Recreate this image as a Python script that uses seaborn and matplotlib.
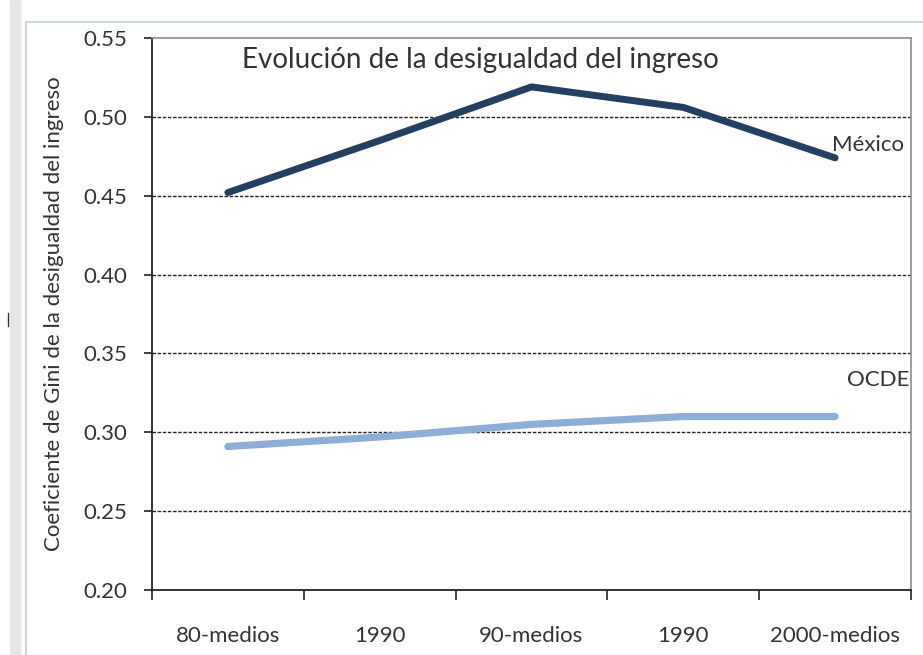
import pandas as pd
import matplotlib
matplotlib.use("Agg")
import matplotlib.pyplot as plt
import seaborn as sns
from matplotlib.lines import Line2D
from matplotlib.ticker import FixedLocator, NullFormatter

# --- datos ---
periodos = ["80-medios", "1990", "90-medios", "1990", "2000-medios"]
mexico = [0.452, 0.485, 0.519, 0.506, 0.474]
ocde = [0.291, 0.297, 0.305, 0.310, 0.310]
y_ticks = [0.20, 0.25, 0.30, 0.35, 0.40, 0.45, 0.50, 0.55]

titulo = "Evolución de la desigualdad del ingreso"
eje_y = "Coeficiente de Gini de la desigualdad del ingreso"

sns.set_style("white")
plt.rcParams['font.family'] = ['Lato', 'DejaVu Sans']

df = pd.DataFrame({
    "pos": list(range(len(periodos))) * 2,
    "gini": mexico + ocde,
    "serie": ["México"] * len(periodos) + ["OCDE"] * len(periodos),
})

fig = plt.figure(figsize=(9.23, 6.55), dpi=100)
ax = fig.add_axes([152 / 923, 1 - 590 / 655, (911 - 152) / 923, (590 - 38) / 655])

# marco exterior del gráfico
fig.add_artist(plt.Rectangle((10 / 923, 0), 10 / 923, 1, color="#e6e6e6",
                             transform=fig.transFigure, zorder=0))
fig.add_artist(Line2D([26 / 923, 26 / 923], [0, 1 - 22 / 655], color="#c9d3e3",
                      lw=1.5, transform=fig.transFigure))
fig.add_artist(Line2D([26 / 923, 1], [1 - 22 / 655, 1 - 22 / 655], color="#c9d3e3",
                      lw=1.5, transform=fig.transFigure))
fig.add_artist(Line2D([8 / 923, 8 / 923], [1 - 326 / 655, 1 - 313 / 655], color="#333333",
                      lw=1, transform=fig.transFigure))

sns.lineplot(data=df[df.serie == "México"], x="pos", y="gini", color="#243f60",
             linewidth=5, ax=ax, legend=False, solid_capstyle="round")
sns.lineplot(data=df[df.serie == "OCDE"], x="pos", y="gini", color="#8eaed6",
             linewidth=5.2, ax=ax, legend=False, solid_capstyle="round")

ax.set_xlim(-0.5, len(periodos) - 0.5)
ax.set_ylim(0.20, 0.55)
ax.set_yticks(y_ticks)
ax.set_yticklabels([f"{v:.2f}" for v in y_ticks], fontsize=16, color="#333333")
for v in y_ticks[1:-1]:
    ax.axhline(v, color="#222222", lw=1.0, ls=(0, (2.5, 1.2)), zorder=0)

# ticks entre categorías, etiquetas centradas
ax.xaxis.set_major_locator(FixedLocator([i - 0.5 for i in range(len(periodos) + 1)]))
ax.xaxis.set_major_formatter(NullFormatter())
ax.xaxis.set_minor_locator(FixedLocator(list(range(len(periodos)))))
ax.set_xticklabels(periodos, minor=True, fontsize=16, color="#333333")
ax.tick_params(axis="x", which="major", direction="out", length=7, width=1.2,
               color="#222222", bottom=True)
ax.tick_params(axis="x", which="minor", length=0, pad=26)
ax.tick_params(axis="y", direction="out", length=6, width=1.2, color="#222222",
               left=True, pad=12)

ax.set_xlabel("")
ax.set_ylabel(eje_y, fontsize=16, color="#333333", labelpad=14)

for side in ["left", "bottom"]:
    ax.spines[side].set_color("#222222")
    ax.spines[side].set_linewidth(1.3)
for side in ["top", "right"]:
    ax.spines[side].set_color("#8c8c8c")
    ax.spines[side].set_linewidth(1.2)

ax.text(1.66, 0.536, titulo, fontsize=20, color="#333333", ha="center", va="center")
ax.text(3.98, mexico[-1] + 0.008, "México", fontsize=16, color="#333333",
        ha="left", va="center")
ax.text(4.08, ocde[-1] + 0.023, "OCDE", fontsize=16, color="#333333",
        ha="left", va="center")

fig.savefig("out.png", dpi=100)
